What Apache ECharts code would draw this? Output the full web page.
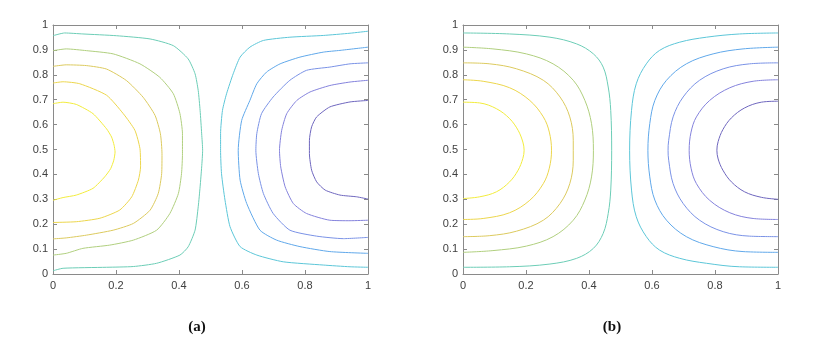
<!DOCTYPE html>
<html>
<head>
<meta charset="utf-8">
<script src="https://cdn.jsdelivr.net/npm/echarts@6/dist/echarts.min.js"></script>
<style>
  html, body { margin: 0; padding: 0; background: #fff; }
</style>
</head>
<body>
<div id="chart" style="width: 813px; height: 350px"></div>
<script>
// tick values of both axes
const xTicks = [0, 0.2, 0.4, 0.6, 0.8, 1];
const yTicks = [0, 0.1, 0.2, 0.3, 0.4, 0.5, 0.6, 0.7, 0.8, 0.9, 1];
const panelLabels = ["(a)", "(b)"];

// contour line colours, from the highest level (yellow) to the lowest (dark blue)
const levelColors = ["#f2ec3c", "#ecd64c", "#dcca5e", "#b0cf7e", "#6ccdb6",
                     "#5cc6d8", "#60a8ea", "#7a92e6", "#8482dc", "#6e66be"];

// panel (a) contours
const contourA1 = [[0,0.684],[0.032,0.690],[0.074,0.681],[0.127,0.644],[0.170,0.583],[0.186,0.550],[0.194,0.517],[0.197,0.490],[0.193,0.457],[0.183,0.423],[0.164,0.390],[0.127,0.344],[0.074,0.317],[0.032,0.307],[0,0.296]];
const contourA2 = [[0,0.767],[0.032,0.772],[0.085,0.764],[0.170,0.718],[0.223,0.644],[0.260,0.577],[0.276,0.504],[0.278,0.430],[0.271,0.377],[0.250,0.310],[0.212,0.257],[0.149,0.224],[0.074,0.210],[0,0.207]];
const contourA3 = [[0,0.834],[0.042,0.840],[0.106,0.837],[0.170,0.823],[0.233,0.777],[0.286,0.710],[0.324,0.637],[0.341,0.563],[0.346,0.483],[0.345,0.403],[0.334,0.323],[0.308,0.256],[0.255,0.203],[0.191,0.176],[0.106,0.156],[0.042,0.145],[0,0.141]];
const contourA4 = [[0,0.897],[0.042,0.904],[0.106,0.897],[0.191,0.884],[0.276,0.844],[0.339,0.790],[0.382,0.724],[0.403,0.644],[0.411,0.563],[0.411,0.483],[0.408,0.403],[0.398,0.323],[0.371,0.243],[0.329,0.176],[0.255,0.136],[0.180,0.116],[0.095,0.103],[0.042,0.083],[0,0.076]];
const contourA5 = [[0,0.957],[0.037,0.968],[0.095,0.964],[0.201,0.957],[0.308,0.944],[0.382,0.917],[0.429,0.864],[0.451,0.804],[0.461,0.737],[0.467,0.657],[0.472,0.563],[0.475,0.497],[0.472,0.430],[0.467,0.350],[0.461,0.270],[0.451,0.176],[0.429,0.109],[0.403,0.076],[0.329,0.043],[0.255,0.030],[0.170,0.027],[0.032,0.023],[0,0.013]];
const contourA6 = [[1,0.975],[0.943,0.967],[0.858,0.958],[0.752,0.951],[0.668,0.938],[0.625,0.911],[0.594,0.871],[0.572,0.804],[0.551,0.724],[0.538,0.657],[0.532,0.564],[0.532,0.497],[0.535,0.403],[0.546,0.297],[0.562,0.190],[0.594,0.110],[0.647,0.076],[0.731,0.049],[0.858,0.036],[0.943,0.029],[1,0.027]];
const contourA7 = [[1,0.911],[0.911,0.898],[0.858,0.891],[0.784,0.871],[0.721,0.844],[0.678,0.811],[0.647,0.764],[0.625,0.697],[0.599,0.617],[0.588,0.497],[0.594,0.377],[0.615,0.283],[0.657,0.176],[0.710,0.136],[0.784,0.110],[0.879,0.090],[1,0.083]];
const contourA8 = [[1,0.848],[0.943,0.844],[0.879,0.831],[0.805,0.818],[0.752,0.778],[0.699,0.711],[0.662,0.644],[0.647,0.564],[0.644,0.497],[0.652,0.403],[0.668,0.323],[0.699,0.243],[0.752,0.176],[0.837,0.152],[0.922,0.142],[1,0.147]];
const contourA9 = [[1,0.778],[0.943,0.771],[0.879,0.757],[0.816,0.731],[0.774,0.697],[0.742,0.644],[0.726,0.577],[0.719,0.497],[0.723,0.430],[0.737,0.350],[0.763,0.283],[0.805,0.243],[0.879,0.216],[0.943,0.214],[1,0.216]];
const contourA10 = [[1,0.697],[0.943,0.691],[0.879,0.671],[0.837,0.631],[0.821,0.591],[0.814,0.537],[0.814,0.484],[0.821,0.417],[0.837,0.370],[0.864,0.337],[0.911,0.317],[0.964,0.310],[1,0.301]];

// panel (b) contours
const contourB1 = [[0,0.690],[0.053,0.687],[0.106,0.664],[0.148,0.624],[0.175,0.577],[0.190,0.530],[0.194,0.497],[0.190,0.464],[0.175,0.417],[0.148,0.370],[0.106,0.330],[0.053,0.310],[0,0.303]];
const contourB2 = [[0,0.780],[0.064,0.774],[0.148,0.748],[0.212,0.697],[0.255,0.631],[0.274,0.570],[0.281,0.497],[0.274,0.425],[0.255,0.363],[0.212,0.296],[0.148,0.246],[0.064,0.223],[0,0.219]];
const contourB3 = [[0,0.848],[0.085,0.844],[0.170,0.824],[0.255,0.778],[0.308,0.711],[0.339,0.631],[0.350,0.537],[0.350,0.457],[0.339,0.363],[0.308,0.283],[0.255,0.216],[0.170,0.172],[0.085,0.154],[0,0.150]];
const contourB4 = [[0,0.911],[0.095,0.904],[0.201,0.884],[0.286,0.844],[0.350,0.778],[0.387,0.697],[0.408,0.604],[0.414,0.497],[0.408,0.390],[0.387,0.297],[0.350,0.216],[0.286,0.150],[0.201,0.112],[0.095,0.094],[0,0.087]];
const contourB5 = [[0,0.968],[0.148,0.964],[0.276,0.951],[0.361,0.924],[0.414,0.884],[0.445,0.831],[0.461,0.751],[0.469,0.657],[0.472,0.497],[0.469,0.337],[0.461,0.243],[0.445,0.163],[0.414,0.103],[0.361,0.063],[0.276,0.040],[0.148,0.029],[0,0.027]];
const contourB6 = [[1,0.968],[0.878,0.964],[0.773,0.951],[0.688,0.931],[0.624,0.898],[0.582,0.844],[0.550,0.764],[0.535,0.657],[0.529,0.497],[0.535,0.337],[0.550,0.230],[0.582,0.150],[0.624,0.096],[0.688,0.063],[0.773,0.043],[0.878,0.029],[1,0.027]];
const contourB7 = [[1,0.911],[0.889,0.904],[0.794,0.884],[0.709,0.844],[0.646,0.778],[0.609,0.697],[0.593,0.604],[0.587,0.497],[0.593,0.390],[0.609,0.297],[0.646,0.216],[0.709,0.150],[0.794,0.110],[0.889,0.090],[1,0.087]];
const contourB8 = [[1,0.848],[0.910,0.844],[0.826,0.824],[0.751,0.778],[0.699,0.711],[0.667,0.631],[0.653,0.537],[0.651,0.497],[0.653,0.457],[0.667,0.363],[0.699,0.283],[0.751,0.216],[0.826,0.170],[0.910,0.152],[1,0.150]];
const contourB9 = [[1,0.780],[0.921,0.774],[0.847,0.748],[0.783,0.697],[0.741,0.631],[0.724,0.570],[0.718,0.497],[0.724,0.425],[0.741,0.363],[0.783,0.296],[0.847,0.246],[0.921,0.223],[1,0.219]];
const contourB10 = [[1,0.694],[0.947,0.690],[0.894,0.667],[0.852,0.627],[0.825,0.580],[0.810,0.532],[0.806,0.497],[0.810,0.462],[0.825,0.417],[0.852,0.370],[0.894,0.330],[0.947,0.308],[1,0.300]];

const panelA = [contourA1, contourA2, contourA3, contourA4, contourA5,
                contourA6, contourA7, contourA8, contourA9, contourA10];
const panelB = [contourB1, contourB2, contourB3, contourB4, contourB5,
                contourB6, contourB7, contourB8, contourB9, contourB10];

const myChart = echarts.init(document.getElementById("chart"));

const axisGrey = "#8a8a8a";
const labelFont = { color: "#404040", fontSize: 11, fontFamily: "Liberation Sans, Arial, sans-serif" };

function xAxisFor(grid, pos) {
  return {
    type: "value", gridIndex: grid, position: pos, min: 0, max: 1, interval: 0.2,
    axisLine: { show: true, onZero: false, lineStyle: { color: axisGrey, width: 1 } },
    axisTick: { show: true, inside: true, length: 4, lineStyle: { color: axisGrey } },
    axisLabel: pos === "bottom"
      ? Object.assign({ margin: 6, formatter: v => String(xTicks.find(t => Math.abs(t - v) < 1e-9) ?? v) }, labelFont)
      : { show: false },
    splitLine: { show: false }
  };
}

function yAxisFor(grid, pos) {
  return {
    type: "value", gridIndex: grid, position: pos, min: 0, max: 1, interval: 0.1,
    axisLine: { show: true, onZero: false, lineStyle: { color: axisGrey, width: 1 } },
    axisTick: { show: true, inside: true, length: 4, lineStyle: { color: axisGrey } },
    axisLabel: pos === "left"
      ? Object.assign({ margin: 5, formatter: v => String(yTicks.find(t => Math.abs(t - v) < 1e-9) ?? v) }, labelFont)
      : { show: false },
    splitLine: { show: false }
  };
}

const series = [];
[panelA, panelB].forEach((panel, g) => {
  panel.forEach((line, i) => {
    series.push({
      type: "line",
      xAxisIndex: g * 2,
      yAxisIndex: g * 2,
      data: line,
      smooth: g === 1 ? 0.35 : 0.2,
      symbol: "none",
      silent: true,
      lineStyle: { color: levelColors[i], width: 1 }
    });
  });
});

const option = {
  animation: false,
  grid: [
    { left: 53, top: 25, width: 315, height: 249 },
    { left: 463, top: 25, width: 315, height: 249 }
  ],
  xAxis: [xAxisFor(0, "bottom"), xAxisFor(0, "top"), xAxisFor(1, "bottom"), xAxisFor(1, "top")],
  yAxis: [yAxisFor(0, "left"), yAxisFor(0, "right"), yAxisFor(1, "left"), yAxisFor(1, "right")],
  graphic: panelLabels.map((t, i) => ({
    type: "text",
    x: i === 0 ? 197 : 612,
    y: 327,
    style: {
      text: t,
      fill: "#111",
      font: "bold 15px 'Liberation Serif', 'Times New Roman', serif",
      textAlign: "center",
      textVerticalAlign: "middle"
    }
  })),
  series: series
};

myChart.setOption(option);
</script>
</body>
</html>
